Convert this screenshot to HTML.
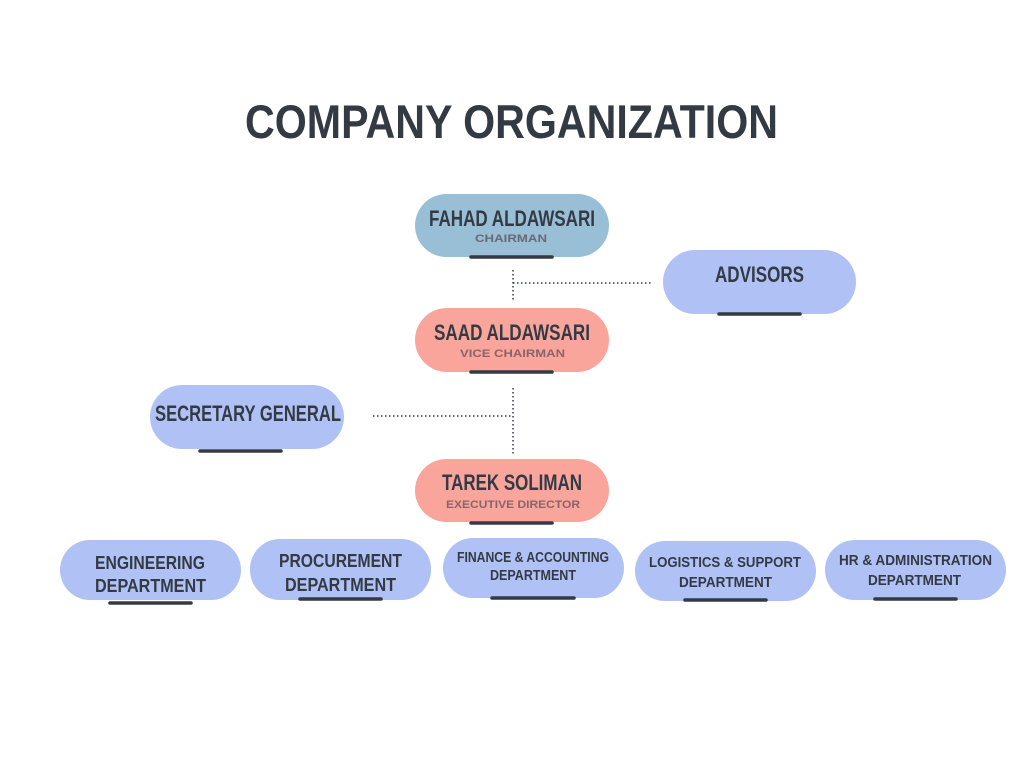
<!DOCTYPE html>
<html><head><meta charset="utf-8"><style>html,body{margin:0;padding:0;background:#fff}svg{display:block}</style></head>
<body>
<svg width="1024" height="768" viewBox="0 0 1024 768" xmlns="http://www.w3.org/2000/svg" font-family="'Liberation Sans', sans-serif" font-weight="bold">
<rect width="1024" height="768" fill="#fff"/>
<text x="245" y="138" font-size="47" fill="#333a44" textLength="533" lengthAdjust="spacingAndGlyphs">COMPANY ORGANIZATION</text>
<g stroke="#333a44" stroke-width="1.5" stroke-dasharray="1.5 2.5" fill="none">
<line x1="513" y1="270" x2="513" y2="300"/>
<line x1="513" y1="283" x2="652" y2="283"/>
<line x1="513" y1="388" x2="513" y2="455"/>
<line x1="373" y1="416" x2="513" y2="416"/>
</g>
<rect x="415" y="194" width="194" height="63" rx="31.5" fill="#98bfd5"/>
<rect x="663" y="250" width="193" height="64" rx="32" fill="#b0c1f5"/>
<rect x="415" y="308" width="194" height="64" rx="32" fill="#f9a59c"/>
<rect x="150" y="385" width="194" height="64" rx="32" fill="#b0c1f5"/>
<rect x="415" y="459" width="194" height="63" rx="31.5" fill="#f9a59c"/>
<rect x="60" y="540" width="181" height="60" rx="30" fill="#b0c1f5"/>
<rect x="250" y="539" width="181" height="61" rx="30" fill="#b0c1f5"/>
<rect x="443" y="538" width="181" height="60" rx="30" fill="#b0c1f5"/>
<rect x="635" y="541" width="181" height="60" rx="30" fill="#b0c1f5"/>
<rect x="825" y="540" width="181" height="60" rx="30" fill="#b0c1f5"/>
<g stroke="#333a44" stroke-width="3.5" stroke-linecap="round">
<line x1="471" y1="257" x2="552" y2="257"/>
<line x1="719" y1="314" x2="800" y2="314"/>
<line x1="471" y1="372" x2="552" y2="372"/>
<line x1="200" y1="451" x2="281" y2="451"/>
<line x1="471" y1="523" x2="552" y2="523"/>
<line x1="110" y1="603" x2="191" y2="603"/>
<line x1="300" y1="599" x2="381" y2="599"/>
<line x1="492" y1="598" x2="574" y2="598"/>
<line x1="685" y1="600" x2="766" y2="600"/>
<line x1="875" y1="599" x2="956" y2="599"/>
</g>
<g fill="#333a44" font-size="22">
<text x="429" y="226" textLength="166" lengthAdjust="spacingAndGlyphs">FAHAD ALDAWSARI</text>
<text x="715" y="282" textLength="89" lengthAdjust="spacingAndGlyphs">ADVISORS</text>
<text x="434" y="340" textLength="156" lengthAdjust="spacingAndGlyphs">SAAD ALDAWSARI</text>
<text x="155" y="421" textLength="186" lengthAdjust="spacingAndGlyphs">SECRETARY GENERAL</text>
<text x="442" y="490" textLength="140" lengthAdjust="spacingAndGlyphs">TAREK SOLIMAN</text>
</g>
<g fill="#6a6878" font-size="11">
<text x="475" y="242" textLength="72" lengthAdjust="spacingAndGlyphs">CHAIRMAN</text>
</g>
<g fill="#8a6468" font-size="11">
<text x="460" y="357" textLength="105" lengthAdjust="spacingAndGlyphs">VICE CHAIRMAN</text>
<text x="446" y="508" textLength="134" lengthAdjust="spacingAndGlyphs">EXECUTIVE DIRECTOR</text>
</g>
<g fill="#333a44" font-size="18">
<text x="95" y="569" textLength="110" lengthAdjust="spacingAndGlyphs">ENGINEERING</text>
<text x="95" y="592" textLength="111" lengthAdjust="spacingAndGlyphs">DEPARTMENT</text>
<text x="279" y="567" textLength="123" lengthAdjust="spacingAndGlyphs">PROCUREMENT</text>
<text x="285" y="591" textLength="111" lengthAdjust="spacingAndGlyphs">DEPARTMENT</text>
</g>
<g fill="#333a44" font-size="14.5">
<text x="457" y="562" textLength="152" lengthAdjust="spacingAndGlyphs">FINANCE &amp; ACCOUNTING</text>
<text x="490" y="580" textLength="86" lengthAdjust="spacingAndGlyphs">DEPARTMENT</text>
<text x="649" y="567" textLength="152" lengthAdjust="spacingAndGlyphs">LOGISTICS &amp; SUPPORT</text>
<text x="679" y="587" textLength="93" lengthAdjust="spacingAndGlyphs">DEPARTMENT</text>
<text x="839" y="565" textLength="153" lengthAdjust="spacingAndGlyphs">HR &amp; ADMINISTRATION</text>
<text x="868" y="585" textLength="93" lengthAdjust="spacingAndGlyphs">DEPARTMENT</text>
</g>
</svg>
</body></html>
